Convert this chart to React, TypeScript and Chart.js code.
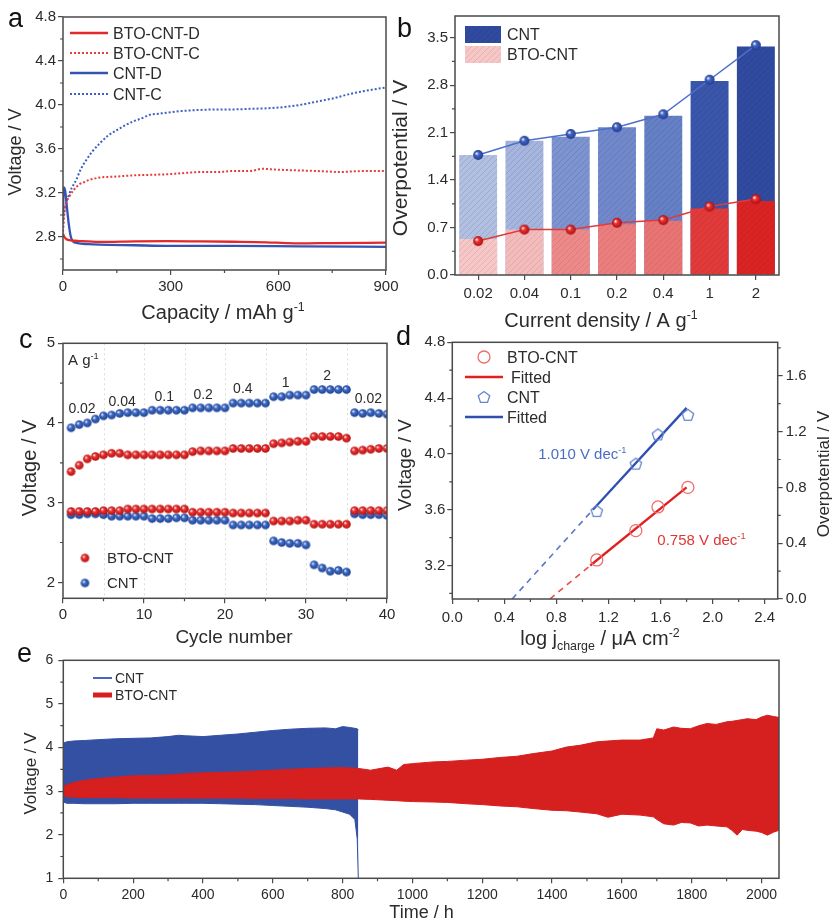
import React, { useEffect, useRef } from "react";
import { Chart, registerables } from "chart.js";
Chart.register(...registerables);

// ---------------- data ----------------
// panel a : discharge / charge curves
const capBtoD = [0, 4, 10, 20, 40, 102, 200, 288, 380, 474, 567, 620, 659, 750, 900];
const voltBtoD = [2.83, 2.8, 2.78, 2.77, 2.765, 2.755, 2.76, 2.762, 2.76, 2.757, 2.752, 2.745, 2.742, 2.745, 2.748];
const capBtoC = [0, 5, 9, 18, 28, 46, 60, 74, 102, 150, 195, 240, 288, 330, 381, 430, 474, 520, 557, 580, 613, 660, 706, 740, 771, 800, 845, 900];
const voltBtoC = [2.85, 3.05, 3.11, 3.17, 3.22, 3.28, 3.3, 3.32, 3.34, 3.35, 3.36, 3.365, 3.37, 3.38, 3.39, 3.39, 3.4, 3.4, 3.42, 3.415, 3.41, 3.405, 3.4, 3.395, 3.39, 3.395, 3.4, 3.4];
const capCntD = [0, 2, 6, 10, 16, 22, 28, 40, 70, 102, 200, 288, 474, 659, 900];
const voltCntD = [3.0, 3.25, 3.22, 3.1, 2.92, 2.8, 2.76, 2.745, 2.735, 2.73, 2.725, 2.72, 2.72, 2.715, 2.71];
const capCntC = [0, 5, 9, 15, 25, 37, 50, 65, 80, 102, 125, 149, 170, 195, 220, 241, 265, 288, 330, 381, 430, 474, 520, 567, 613, 659, 706, 752, 799, 845, 900];
const voltCntC = [2.95, 3.05, 3.11, 3.17, 3.25, 3.32, 3.42, 3.5, 3.57, 3.65, 3.72, 3.77, 3.81, 3.85, 3.88, 3.91, 3.92, 3.93, 3.945, 3.955, 3.96, 3.96, 3.965, 3.97, 3.98, 4.0, 4.03, 4.06, 4.1, 4.13, 4.16];
const aTicksX = [0, 300, 600, 900];
const aTicksY = [2.8, 3.2, 3.6, 4.0, 4.4, 4.8];

// panel b : overpotential vs current density
const densityLabels = ["0.02", "0.04", "0.1", "0.2", "0.4", "1", "2"];
const cntBar = [1.77, 1.98, 2.04, 2.18, 2.35, 2.86, 3.37];
const btoBar = [0.53, 0.67, 0.67, 0.75, 0.8, 0.98, 1.09];
const cntPoint = [1.77, 1.98, 2.08, 2.18, 2.37, 2.88, 3.39];
const btoPoint = [0.5, 0.67, 0.67, 0.77, 0.81, 1.01, 1.12];
const bTicksY = [0, 0.7, 1.4, 2.1, 2.8, 3.5];

// panel c : rate capability
const cycles = Array.from({ length: 40 }, (_, i) => i + 1);
const btoCharge = [3.39, 3.47, 3.55, 3.58, 3.6, 3.62, 3.62, 3.6, 3.6, 3.6, 3.6, 3.6, 3.6, 3.6, 3.6, 3.64, 3.65, 3.65, 3.65, 3.65, 3.68, 3.68, 3.68, 3.68, 3.68, 3.74, 3.75, 3.76, 3.77, 3.77, 3.83, 3.83, 3.83, 3.83, 3.81, 3.65, 3.66, 3.67, 3.68, 3.68];
const cntCharge = [3.94, 3.98, 4.0, 4.05, 4.09, 4.1, 4.12, 4.13, 4.13, 4.13, 4.16, 4.16, 4.16, 4.16, 4.16, 4.19, 4.19, 4.19, 4.19, 4.19, 4.25, 4.25, 4.25, 4.25, 4.25, 4.33, 4.33, 4.35, 4.35, 4.35, 4.42, 4.42, 4.42, 4.42, 4.42, 4.13, 4.12, 4.13, 4.12, 4.11];
const btoDischarge = [2.89, 2.89, 2.89, 2.89, 2.9, 2.9, 2.9, 2.92, 2.92, 2.92, 2.92, 2.92, 2.92, 2.92, 2.92, 2.88, 2.88, 2.88, 2.88, 2.88, 2.87, 2.87, 2.87, 2.87, 2.87, 2.77, 2.77, 2.77, 2.78, 2.78, 2.73, 2.73, 2.73, 2.73, 2.73, 2.9, 2.9, 2.9, 2.9, 2.9];
const cntDischarge = [2.85, 2.85, 2.86, 2.86, 2.85, 2.83, 2.83, 2.83, 2.83, 2.83, 2.8, 2.8, 2.8, 2.81, 2.81, 2.78, 2.78, 2.78, 2.78, 2.78, 2.72, 2.72, 2.72, 2.72, 2.72, 2.52, 2.5, 2.49, 2.49, 2.47, 2.22, 2.18, 2.14, 2.15, 2.13, 2.86, 2.85, 2.85, 2.85, 2.84];
const rateLabels = ["0.02", "0.04", "0.1", "0.2", "0.4", "1", "2", "0.02"];
const rateLabelX = [2.35, 7.3, 12.5, 17.3, 22.2, 27.5, 32.6, 37.7];
const rateLabelY = [4.19, 4.28, 4.34, 4.37, 4.44, 4.51, 4.6, 4.31];
const cTicksX = [0, 10, 20, 30, 40];
const cTicksY = [2, 3, 4, 5];

// panel d : Tafel plot
const btoLogJ = [1.11, 1.41, 1.58, 1.81];
const btoVolt = [3.24, 3.45, 3.62, 3.76];
const cntLogJ = [1.11, 1.41, 1.58, 1.81];
const cntVolt = [3.59, 3.93, 4.14, 4.28];
const btoFitX = [1.06, 1.8];
const btoFitY = [3.2, 3.76];
const btoExtX = [0.75, 1.06];
const btoExtY = [2.96, 3.2];
const cntFitX = [1.08, 1.8];
const cntFitY = [3.6, 4.33];
const cntExtX = [0.46, 1.08];
const cntExtY = [2.96, 3.6];
const dTicksX = [0, 0.4, 0.8, 1.2, 1.6, 2.0, 2.4];
const dTicksY = [3.2, 3.6, 4.0, 4.4, 4.8];
const dTicksY2 = [0, 0.4, 0.8, 1.2, 1.6];

// panel e : long-term cycling envelopes
const cntTime = [0, 10, 30, 60, 100, 150, 200, 250, 300, 330, 350, 400, 450, 500, 550, 600, 650, 700, 750, 780, 800, 820, 835, 842, 845];
const cntUpper = [4.1, 4.13, 4.15, 4.16, 4.18, 4.2, 4.21, 4.22, 4.25, 4.28, 4.27, 4.25, 4.28, 4.31, 4.35, 4.39, 4.42, 4.44, 4.45, 4.43, 4.48, 4.46, 4.44, 4.43, 4.4];
const cntLower = [2.75, 2.72, 2.72, 2.71, 2.71, 2.71, 2.72, 2.72, 2.72, 2.72, 2.72, 2.72, 2.71, 2.7, 2.69, 2.67, 2.65, 2.63, 2.6, 2.57, 2.52, 2.47, 2.35, 1.9, 1.0];
const btoTime = [0, 10, 30, 60, 100, 150, 200, 250, 300, 350, 400, 450, 500, 550, 600, 650, 700, 750, 800, 845, 880, 930, 955, 975, 1000, 1060, 1100, 1155, 1200, 1250, 1300, 1346, 1400, 1441, 1480, 1528, 1560, 1600, 1652, 1690, 1700, 1720, 1748, 1770, 1796, 1820, 1844, 1870, 1901, 1915, 1930, 1945, 1959, 1985, 2000, 2017, 2035, 2050];
const btoUpper = [3.1, 3.15, 3.2, 3.25, 3.29, 3.32, 3.35, 3.36, 3.37, 3.4, 3.42, 3.43, 3.44, 3.46, 3.48, 3.5, 3.52, 3.53, 3.54, 3.52, 3.48, 3.55, 3.48, 3.61, 3.63, 3.67, 3.68, 3.71, 3.73, 3.77, 3.8, 3.86, 3.92, 4.01, 4.05, 4.13, 4.15, 4.17, 4.17, 4.22, 4.43, 4.4, 4.47, 4.44, 4.43, 4.5, 4.55, 4.53, 4.59, 4.6, 4.62, 4.64, 4.66, 4.64, 4.7, 4.74, 4.71, 4.69];
const btoLower = [2.9, 2.87, 2.86, 2.85, 2.85, 2.85, 2.84, 2.84, 2.84, 2.84, 2.84, 2.84, 2.84, 2.83, 2.83, 2.83, 2.82, 2.82, 2.82, 2.82, 2.81, 2.79, 2.78, 2.77, 2.76, 2.75, 2.74, 2.71, 2.69, 2.66, 2.64, 2.6, 2.56, 2.55, 2.52, 2.48, 2.4, 2.47, 2.45, 2.41, 2.35, 2.25, 2.22, 2.28, 2.27, 2.2, 2.22, 2.2, 2.18, 2.1, 1.99, 2.12, 2.1, 2.08, 2.05, 1.99, 2.06, 2.1];
const eTicksX = [0, 200, 400, 600, 800, 1000, 1200, 1400, 1600, 1800, 2000];
const eTicksY = [1, 2, 3, 4, 5, 6];

// ---------------- style helpers ----------------
const FONT = "'Liberation Sans', Arial, Helvetica, sans-serif";
const TXT = "#2b2b2b";
const AX = "#4a4a4a";
const RED = "#e22a2a";
const BLUE = "#3453b3";

type Seg = [string, number];
function drawRich(ctx: any, segs: Seg[], x: number, y: number, size: number, color: string, align = "center", rot = 0) {
  ctx.save();
  ctx.translate(x, y);
  ctx.rotate(rot);
  ctx.fillStyle = color;
  ctx.textBaseline = "alphabetic";
  const small = size * 0.62;
  let w = 0;
  for (const [t, m] of segs) {
    ctx.font = `${m ? small : size}px ${FONT}`;
    w += ctx.measureText(t).width;
  }
  let cx = align === "center" ? -w / 2 : 0;
  const base = size * 0.36;
  for (const [t, m] of segs) {
    ctx.font = `${m ? small : size}px ${FONT}`;
    const dy = m === 1 ? -size * 0.42 : m === 2 ? size * 0.24 : 0;
    ctx.fillText(t, cx, base + dy);
    cx += ctx.measureText(t).width;
  }
  ctx.restore();
}
const ROT = -Math.PI / 2;

function letter(ctx: any, t: string, x: number, y: number) {
  ctx.save();
  ctx.font = `27px ${FONT}`;
  ctx.fillStyle = "#111";
  ctx.textBaseline = "alphabetic";
  ctx.fillText(t, x, y);
  ctx.restore();
}

function linAxis(o: any) {
  return {
    type: "linear",
    position: o.pos,
    min: o.min,
    max: o.max,
    afterBuildTicks: (s: any) => {
      s.ticks = o.ticks.map((v: number) => ({ value: v }));
    },
    afterFit: (s: any) => {
      if (s.isHorizontal()) s.height = o.fit;
      else s.width = o.fit;
    },
    grid: { drawOnChartArea: false, drawTicks: true, tickLength: 5, color: AX, lineWidth: 1.2 },
    border: { display: false },
    ticks: {
      color: TXT,
      font: { family: FONT, size: o.size || 15 },
      padding: o.pad == null ? 3 : o.pad,
      maxRotation: 0,
      autoSkip: false,
      callback: (v: any) => Number(v).toFixed(o.dec),
    },
  };
}

function makeDeco(cfg: any) {
  return {
    id: "deco",
    beforeDatasetsDraw(chart: any) {
      if (cfg.before) cfg.before(chart);
    },
    afterDraw(chart: any) {
      const ctx = chart.ctx;
      const a = chart.chartArea;
      ctx.save();
      ctx.strokeStyle = AX;
      ctx.lineWidth = 1.2;
      const minor = cfg.minor || {};
      for (const id in minor) {
        const s = chart.scales[id];
        const step = minor[id];
        const majors = s.ticks.map((t: any) => t.value);
        ctx.beginPath();
        for (let k = Math.ceil(s.min / step - 1e-9); k * step <= s.max + 1e-9; k++) {
          const v = k * step;
          if (majors.some((m: number) => Math.abs(m - v) < step * 0.01)) continue;
          const p = s.getPixelForValue(v);
          if (s.isHorizontal()) {
            ctx.moveTo(p, a.bottom);
            ctx.lineTo(p, a.bottom + 3);
          } else if (s.position === "right") {
            ctx.moveTo(a.right, p);
            ctx.lineTo(a.right + 3, p);
          } else {
            ctx.moveTo(a.left, p);
            ctx.lineTo(a.left - 3, p);
          }
        }
        ctx.stroke();
      }
      ctx.lineWidth = 1.5;
      ctx.strokeRect(a.left, a.top, a.right - a.left, a.bottom - a.top);
      ctx.restore();
      if (cfg.after) cfg.after(chart, ctx);
    },
  };
}

function ball(color: string, dark: string, r: number) {
  const c = document.createElement("canvas");
  const s = Math.ceil(r * 2) + 2;
  c.width = s;
  c.height = s;
  const g: any = c.getContext("2d");
  const cx = s / 2;
  const grd = g.createRadialGradient(cx - r * 0.35, cx - r * 0.35, r * 0.05, cx, cx, r);
  grd.addColorStop(0, "#ffffff");
  grd.addColorStop(0.35, color);
  grd.addColorStop(1, dark);
  g.fillStyle = grd;
  g.beginPath();
  g.arc(cx, cx, r, 0, Math.PI * 2);
  g.fill();
  return c;
}

function pentagon(color: string, r: number) {
  const c = document.createElement("canvas");
  const s = Math.ceil(r * 2) + 4;
  c.width = s;
  c.height = s;
  const g: any = c.getContext("2d");
  const cx = s / 2;
  g.strokeStyle = color;
  g.lineWidth = 1.3;
  g.beginPath();
  for (let i = 0; i < 5; i++) {
    const ang = -Math.PI / 2 + (i * 2 * Math.PI) / 5;
    const px = cx + r * Math.cos(ang);
    const py = cx + 0.5 + r * Math.sin(ang);
    if (i === 0) g.moveTo(px, py);
    else g.lineTo(px, py);
  }
  g.closePath();
  g.stroke();
  return c;
}

function hatch(base: string, line: string) {
  const c = document.createElement("canvas");
  c.width = 6;
  c.height = 6;
  const g: any = c.getContext("2d");
  g.fillStyle = base;
  g.fillRect(0, 0, 6, 6);
  g.strokeStyle = line;
  g.lineWidth = 1;
  g.beginPath();
  g.moveTo(0, 6);
  g.lineTo(6, 0);
  g.moveTo(-3, 3);
  g.lineTo(3, -3);
  g.moveTo(3, 9);
  g.lineTo(9, 3);
  g.stroke();
  const ctx: any = document.createElement("canvas").getContext("2d");
  return ctx.createPattern(c, "repeat");
}

const pts = (xs: number[], ys: number[]) => xs.map((x, i) => ({ x, y: ys[i] }));
const baseOpts = (padding: any) => ({
  responsive: false,
  animation: false,
  events: [],
  layout: { padding },
  plugins: { legend: { display: false }, tooltip: { enabled: false } },
});

// ---------------- panel configs ----------------
function configA() {
  const line = (xs: number[], ys: number[], color: string, dotted: boolean) => ({
    data: pts(xs, ys),
    borderColor: color,
    borderWidth: dotted ? 2 : 2.3,
    borderDash: dotted ? [2, 2] : [],
    pointRadius: 0,
    cubicInterpolationMode: "monotone",
  });
  return {
    type: "line",
    data: {
      datasets: [
        line(capBtoD, voltBtoD, RED, false),
        line(capBtoC, voltBtoC, "#e63c3c", true),
        line(capCntD, voltCntD, BLUE, false),
        line(capCntC, voltCntC, "#3c60c4", true),
      ],
    },
    options: {
      ...baseOpts({ top: 17, right: 18, left: 0, bottom: 0 }),
      scales: {
        x: linAxis({ pos: "bottom", min: 0, max: 900, ticks: aTicksX, dec: 0, fit: 60, size: 15 }),
        y: linAxis({ pos: "left", min: 2.5, max: 4.8, ticks: aTicksY, dec: 1, fit: 63, size: 15, pad: 2 }),
      },
    },
    plugins: [
      makeDeco({
        minor: { x: 150, y: 0.2 },
        after: (chart: any, ctx: any) => {
          letter(ctx, "a", 8, 27);
          drawRich(ctx, [["Voltage / V", 0]], 15, 152, 18, TXT, "center", ROT);
          drawRich(ctx, [["Capacity / mAh g", 0], ["-1", 1]], 223, 312, 20, TXT);
          const rows: any[] = [
            ["BTO-CNT-D", RED, false, 33],
            ["BTO-CNT-C", "#e63c3c", true, 53],
            ["CNT-D", BLUE, false, 73],
            ["CNT-C", "#3c60c4", true, 94],
          ];
          for (const [t, c, d, y] of rows) {
            ctx.save();
            ctx.strokeStyle = c;
            ctx.lineWidth = d ? 2 : 2.5;
            ctx.setLineDash(d ? [2, 2] : []);
            ctx.beginPath();
            ctx.moveTo(70, y);
            ctx.lineTo(108, y);
            ctx.stroke();
            ctx.restore();
            drawRich(ctx, [[t, 0]], 113, y, 16, TXT, "left");
          }
        },
      }),
    ],
  };
}

function configB() {
  const cntCols = ["#b1bfe1", "#a5b5dd", "#7d94d0", "#7189cb", "#6580c5", "#3a56ab", "#2f4a9f"];
  const btoCols = ["#f6c7c7", "#f3bcbc", "#ec8a8a", "#ea7e7e", "#e87474", "#e03a3a", "#da2424"];
  const cntPat = cntCols.map((c) => hatch(c, "rgba(20,30,80,0.13)"));
  const btoPat = btoCols.map((c) => hatch(c, "rgba(120,0,0,0.10)"));
  const blueBall = ball("#4566c6", "#1f3b8c", 5);
  const redBall = ball("#ee3434", "#a90e0e", 5);
  return {
    type: "bar",
    data: {
      labels: densityLabels,
      datasets: [
        { type: "line", data: cntPoint, borderColor: "#4f70c8", borderWidth: 1.5, pointStyle: blueBall, pointRadius: 5, order: 0 },
        { type: "line", data: btoPoint, borderColor: "#e23a3a", borderWidth: 1.5, pointStyle: redBall, pointRadius: 5, order: 0 },
        { type: "bar", data: btoBar, backgroundColor: btoPat, borderWidth: 0, grouped: false, barPercentage: 0.82, categoryPercentage: 1, order: 1 },
        { type: "bar", data: cntBar, backgroundColor: cntPat, borderWidth: 0, grouped: false, barPercentage: 0.82, categoryPercentage: 1, order: 2 },
      ],
    },
    options: {
      ...baseOpts({ top: 16, right: 59, left: 0, bottom: 0 }),
      scales: {
        x: {
          type: "category",
          afterFit: (s: any) => {
            s.height = 65;
          },
          grid: { drawOnChartArea: false, drawTicks: true, tickLength: 5, color: AX, lineWidth: 1.2, offset: false },
          border: { display: false },
          ticks: { color: TXT, font: { family: FONT, size: 15 }, padding: 5, maxRotation: 0, autoSkip: false },
        },
        y: linAxis({ pos: "left", min: 0, max: 3.82, ticks: bTicksY, dec: 1, fit: 69, size: 15, pad: 2 }),
      },
    },
    plugins: [
      makeDeco({
        minor: { y: 0.35 },
        after: (chart: any, ctx: any) => {
          letter(ctx, "b", 11, 37);
          drawRich(ctx, [["Overpotential / V", 0]], 13, 158, 21, TXT, "center", ROT);
          drawRich(ctx, [["Current density / A g", 0], ["-1", 1]], 215, 320, 20, TXT);
          ctx.save();
          ctx.fillStyle = cntPat[6];
          ctx.fillRect(79, 26, 36, 17);
          ctx.fillStyle = btoPat[0];
          ctx.fillRect(79, 46, 36, 17);
          ctx.restore();
          drawRich(ctx, [["CNT", 0]], 121, 34.5, 16, TXT, "left");
          drawRich(ctx, [["BTO-CNT", 0]], 121, 54.5, 16, TXT, "left");
        },
      }),
    ],
  };
}

function configC() {
  const redBall = ball("#f03232", "#b01010", 4.3);
  const blueBall = ball("#3f6ecb", "#1d3f8f", 4.3);
  const sc = (ys: number[], img: any) => ({ data: pts(cycles, ys), showLine: false, pointStyle: img, pointRadius: 4.3 });
  return {
    type: "scatter",
    data: {
      datasets: [sc(btoCharge, redBall), sc(btoDischarge, redBall), sc(cntCharge, blueBall), sc(cntDischarge, blueBall)],
    },
    options: {
      ...baseOpts({ top: 18.3, right: 17, left: 0, bottom: 0 }),
      scales: {
        x: linAxis({ pos: "bottom", min: 0, max: 40, ticks: cTicksX, dec: 0, fit: 61.7, size: 15 }),
        y: linAxis({ pos: "left", min: 1.8, max: 5, ticks: cTicksY, dec: 0, fit: 63, size: 15, pad: 3 }),
      },
    },
    plugins: [
      makeDeco({
        minor: { x: 5, y: 0.5 },
        before: (chart: any) => {
          const ctx = chart.ctx;
          const a = chart.chartArea;
          const sx = chart.scales.x;
          ctx.save();
          ctx.strokeStyle = "#dcdcdc";
          ctx.lineWidth = 1;
          ctx.setLineDash([2, 3]);
          for (let k = 5; k < 40; k += 5) {
            const p = Math.round(sx.getPixelForValue(k)) + 0.5;
            ctx.beginPath();
            ctx.moveTo(p, a.top);
            ctx.lineTo(p, a.bottom);
            ctx.stroke();
          }
          ctx.restore();
        },
        after: (chart: any, ctx: any) => {
          const sx = chart.scales.x;
          const sy = chart.scales.y;
          letter(ctx, "c", 19, 23);
          drawRich(ctx, [["Voltage / V", 0]], 28.5, 143, 20, TXT, "center", ROT);
          drawRich(ctx, [["Cycle number", 0]], 234, 311, 19, TXT);
          drawRich(ctx, [["A g", 0], ["-1", 1]], 68, 35, 15, TXT, "left");
          rateLabels.forEach((t, i) => {
            drawRich(ctx, [[t, 0]], sx.getPixelForValue(rateLabelX[i]), sy.getPixelForValue(rateLabelY[i]), 14, TXT);
          });
          ctx.drawImage(redBall, 85 - redBall.width / 2, 233 - redBall.height / 2);
          ctx.drawImage(blueBall, 85 - blueBall.width / 2, 258 - blueBall.height / 2);
          drawRich(ctx, [["BTO-CNT", 0]], 107, 233, 15, TXT, "left");
          drawRich(ctx, [["CNT", 0]], 107, 258, 15, TXT, "left");
        },
      }),
    ],
  };
}

function configD() {
  const pent = pentagon("#6484cf", 6);
  const fit = (xs: number[], ys: number[], color: string, dashed: boolean) => ({
    data: pts(xs, ys),
    showLine: true,
    borderColor: color,
    borderWidth: dashed ? 1.6 : 2.3,
    borderDash: dashed ? [6, 5] : [],
    pointRadius: 0,
  });
  return {
    type: "scatter",
    data: {
      datasets: [
        { data: pts(btoLogJ, btoVolt), showLine: false, pointStyle: "circle", pointRadius: 6, backgroundColor: "rgba(0,0,0,0)", borderColor: "#f06c6c", borderWidth: 1.3 },
        { data: pts(cntLogJ, cntVolt), showLine: false, pointStyle: pent, pointRadius: 6 },
        fit(btoFitX, btoFitY, "#e01f1f", false),
        fit(btoExtX, btoExtY, "#e84c4c", true),
        fit(cntFitX, cntFitY, "#2e4fb0", false),
        fit(cntExtX, cntExtY, "#5a78c8", true),
      ],
    },
    options: {
      ...baseOpts({ top: 17.3, right: 0, left: 0, bottom: 0 }),
      scales: {
        x: linAxis({ pos: "bottom", min: 0, max: 2.5, ticks: dTicksX, dec: 1, fit: 61, size: 15, pad: 5 }),
        y: linAxis({ pos: "left", min: 2.96, max: 4.8, ticks: dTicksY, dec: 1, fit: 66.3, size: 15, pad: 2 }),
        y2: linAxis({ pos: "right", min: 0, max: 1.84, ticks: dTicksY2, dec: 1, fit: 60.3, size: 15, pad: 3 }),
      },
    },
    plugins: [
      makeDeco({
        minor: { x: 0.2, y: 0.2, y2: 0.2 },
        after: (chart: any, ctx: any) => {
          const sx = chart.scales.x;
          const sy = chart.scales.y;
          letter(ctx, "d", 10, 20);
          drawRich(ctx, [["Voltage / V", 0]], 18, 140, 19, TXT, "center", ROT);
          drawRich(ctx, [["Overpotential / V", 0]], 437, 149, 17, TXT, "center", ROT);
          drawRich(ctx, [["log j", 0], ["charge", 2], [" / \u03bcA cm", 0], ["-2", 1]], 214, 313, 20, TXT);
          drawRich(ctx, [["1.010 V dec", 0], ["-1", 1]], sx.getPixelForValue(0.66), sy.getPixelForValue(4.0), 15, "#4b6cc6", "left");
          drawRich(ctx, [["0.758 V dec", 0], ["-1", 1]], sx.getPixelForValue(1.575), sy.getPixelForValue(3.387), 15, "#e03535", "left");
          ctx.save();
          ctx.strokeStyle = "#f06c6c";
          ctx.lineWidth = 1.3;
          ctx.beginPath();
          ctx.arc(98, 32, 6, 0, Math.PI * 2);
          ctx.stroke();
          ctx.drawImage(pent, 98 - pent.width / 2, 72 - pent.height / 2);
          ctx.lineWidth = 2.6;
          ctx.strokeStyle = "#e01f1f";
          ctx.beginPath();
          ctx.moveTo(79, 52);
          ctx.lineTo(117, 52);
          ctx.stroke();
          ctx.strokeStyle = "#2e4fb0";
          ctx.beginPath();
          ctx.moveTo(79, 92);
          ctx.lineTo(117, 92);
          ctx.stroke();
          ctx.restore();
          drawRich(ctx, [["BTO-CNT", 0]], 121, 32, 16, TXT, "left");
          drawRich(ctx, [["Fitted", 0]], 125, 52, 16, TXT, "left");
          drawRich(ctx, [["CNT", 0]], 121, 72, 16, TXT, "left");
          drawRich(ctx, [["Fitted", 0]], 121, 92, 16, TXT, "left");
        },
      }),
    ],
  };
}

function configE() {
  const RF = "#d61f1f";
  const BF = "#3350a3";
  const env = (xs: number[], ys: number[], color: string, fill: any) => ({
    data: pts(xs, ys),
    borderColor: color,
    backgroundColor: color,
    borderWidth: 1,
    pointRadius: 0,
    tension: 0,
    fill,
  });
  return {
    type: "line",
    data: {
      datasets: [
        env(btoTime, btoUpper, RF, "+1"),
        env(btoTime, btoLower, RF, false),
        env(cntTime, cntUpper, BF, "+1"),
        env(cntTime, cntLower, BF, false),
      ],
    },
    options: {
      ...baseOpts({ top: 20.3, right: 59, left: 0, bottom: 0 }),
      scales: {
        x: linAxis({ pos: "bottom", min: 0, max: 2050, ticks: eTicksX, dec: 0, fit: 45.7, size: 14, pad: 3 }),
        y: linAxis({ pos: "left", min: 1, max: 6, ticks: eTicksY, dec: 0, fit: 63.3, size: 14, pad: 5 }),
      },
    },
    plugins: [
      makeDeco({
        minor: { x: 100, y: 0.5 },
        after: (chart: any, ctx: any) => {
          letter(ctx, "e", 17, 22);
          drawRich(ctx, [["Voltage / V", 0]], 30, 133.5, 17, TXT, "center", ROT);
          drawRich(ctx, [["Time / h", 0]], 421.5, 271.5, 18, TXT);
          ctx.save();
          ctx.strokeStyle = "#4a64c0";
          ctx.lineWidth = 2;
          ctx.beginPath();
          ctx.moveTo(93, 38);
          ctx.lineTo(112, 38);
          ctx.stroke();
          ctx.strokeStyle = RF;
          ctx.lineWidth = 5;
          ctx.beginPath();
          ctx.moveTo(93, 55);
          ctx.lineTo(112, 55);
          ctx.stroke();
          ctx.restore();
          drawRich(ctx, [["CNT", 0]], 115, 38, 14, TXT, "left");
          drawRich(ctx, [["BTO-CNT", 0]], 115, 55, 14, TXT, "left");
        },
      }),
    ],
  };
}

// ---------------- components ----------------
function Panel({ make, left, top, width, height }: any) {
  const ref = useRef<HTMLCanvasElement>(null);
  useEffect(() => {
    const chart = new Chart(ref.current as any, make() as any);
    return () => chart.destroy();
  }, []);
  return <canvas ref={ref} width={width} height={height} style={{ position: "absolute", left, top, width, height }} />;
}

export default function App() {
  return (
    <div style={{ position: "absolute", left: 0, top: 0, width: 838, height: 924, background: "#fff", overflow: "hidden" }}>
      <Panel make={configA} left={0} top={0} width={404} height={330} />
      <Panel make={configB} left={386} top={0} width={452} height={340} />
      <Panel make={configC} left={0} top={325} width={404} height={335} />
      <Panel make={configD} left={386} top={325} width={452} height={335} />
      <Panel make={configE} left={0} top={640} width={838} height={284} />
    </div>
  );
}
